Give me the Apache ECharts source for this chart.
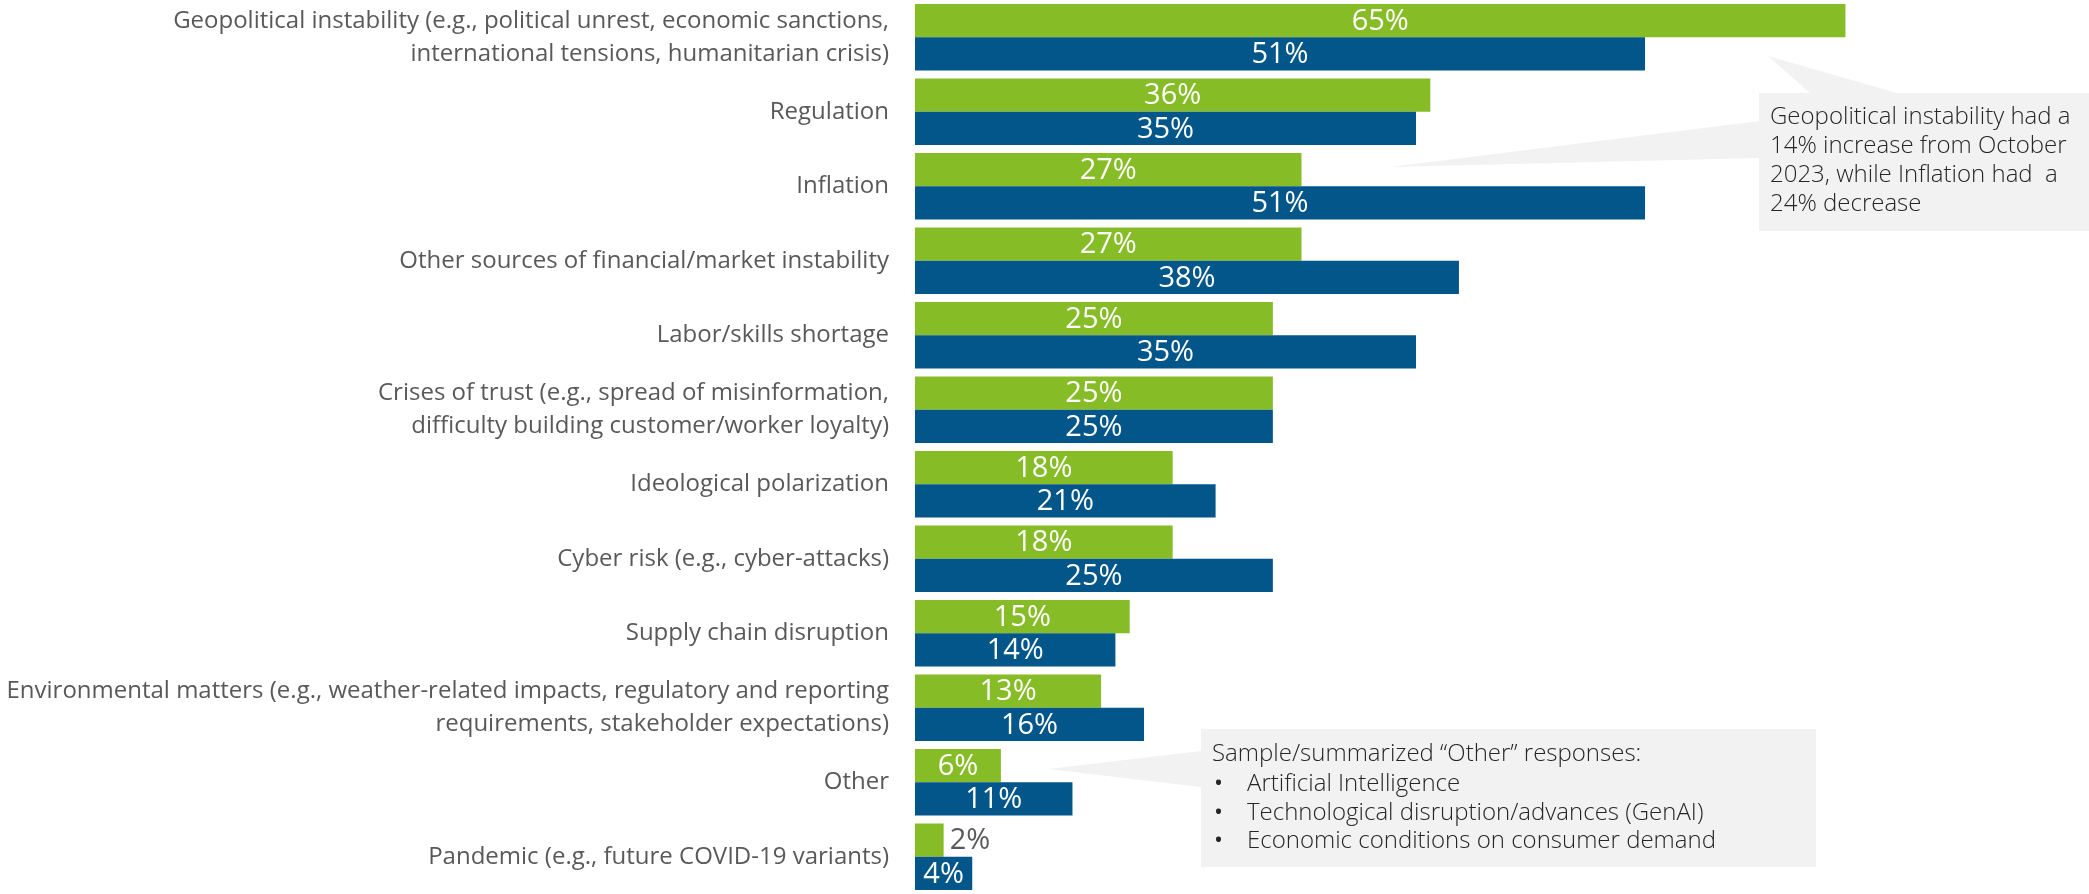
<!DOCTYPE html>
<html>
<head>
<meta charset="utf-8">
<script src="https://cdn.jsdelivr.net/npm/echarts@6/dist/echarts.min.js"></script>
<style>
  html, body { margin: 0; padding: 0; background: #fff; }
  #chart { width: 2089px; height: 894px; }
</style>
</head>
<body>
<div id="chart"></div>
<script>
// categories, top to bottom
const categories = [
  'Geopolitical instability (e.g., political unrest, economic sanctions,\ninternational tensions, humanitarian crisis)',
  'Regulation',
  'Inflation',
  'Other sources of financial/market instability',
  'Labor/skills shortage',
  'Crises of trust (e.g., spread of misinformation,\ndifficulty building customer/worker loyalty)',
  'Ideological polarization',
  'Cyber risk (e.g., cyber-attacks)',
  'Supply chain disruption',
  'Environmental matters (e.g., weather-related impacts, regulatory and reporting\nrequirements, stakeholder expectations)',
  'Other',
  'Pandemic (e.g., future COVID-19 variants)'
];
// green bars (latest survey)
const greenValues = [65, 36, 27, 27, 25, 25, 18, 18, 15, 13, 6, 2];
// blue bars (October 2023)
const blueValues = [51, 35, 51, 38, 35, 25, 21, 25, 14, 16, 11, 4];

const callout1 = 'Geopolitical instability had a\n14% increase from October\n2023, while Inflation had  a\n24% decrease';
const callout2Title = 'Sample/summarized \u201cOther\u201d responses:';
const callout2Items = [
  'Artificial Intelligence',
  'Technological disruption/advances (GenAI)',
  'Economic conditions on consumer demand'
];

const FONT = '"Open Sans", sans-serif';
const GREEN = '#86bc25';
const BLUE = '#02568a';
const NOTE_FONT = '300 24px "Open Sans", sans-serif';

const chart = echarts.init(document.getElementById('chart'));

// small bars get their label outside in grey
function toItems(vals) {
  return vals.map(v => v < 3
    ? { value: v, label: { position: 'right', color: '#595959', distance: 6 } }
    : v);
}

const barLabel = {
  show: true,
  position: 'inside',
  formatter: '{c}%',
  color: '#fff',
  fontFamily: FONT,
  fontSize: 29,
  offset: [0, 1]
};

const option = {
  animation: false,
  grid: { left: 915, right: 172, top: -1, height: 899, containLabel: false },
  xAxis: {
    type: 'value',
    min: 0,
    max: 70,
    show: false
  },
  yAxis: {
    type: 'category',
    inverse: true,
    data: categories,
    axisLine: { show: false },
    axisTick: { show: false },
    splitLine: { show: false },
    axisLabel: {
      margin: 26,
      color: '#595959',
      fontFamily: FONT,
      fontSize: 24,
      lineHeight: 33,
      align: 'right'
    }
  },
  series: [
    {
      name: 'Current',
      type: 'bar',
      barGap: '0%',
      barCategoryGap: '11%',
      itemStyle: { color: GREEN },
      label: barLabel,
      data: toItems(greenValues)
    },
    {
      name: 'October 2023',
      type: 'bar',
      barGap: '0%',
      barCategoryGap: '11%',
      itemStyle: { color: BLUE },
      label: barLabel,
      data: toItems(blueValues)
    }
  ],
  graphic: [
    // callout 1
    { type: 'polygon', z: 1, shape: { points: [[1768, 56], [1810, 93], [1897, 93]] }, style: { fill: '#f2f2f2' } },
    { type: 'polygon', z: 1, shape: { points: [[1390, 167], [1760, 121], [1760, 158]] }, style: { fill: '#f2f2f2' } },
    { type: 'rect', z: 1, shape: { x: 1759, y: 93, width: 330, height: 138 }, style: { fill: '#f2f2f2' } },
    {
      type: 'text', z: 2, x: 1770, y: 103,
      style: { text: callout1, fill: '#262626', font: NOTE_FONT, lineHeight: 29 }
    },
    // callout 2
    { type: 'polygon', z: 1, shape: { points: [[1048, 769], [1201, 751], [1201, 787]] }, style: { fill: '#f2f2f2' } },
    { type: 'rect', z: 1, shape: { x: 1201, y: 729, width: 615, height: 138 }, style: { fill: '#f2f2f2' } },
    {
      type: 'text', z: 2, x: 1212, y: 740,
      style: { text: callout2Title, fill: '#262626', font: NOTE_FONT, lineHeight: 28 }
    },
    {
      type: 'text', z: 2, x: 1214, y: 770,
      style: { text: callout2Items.map(() => '\u2022').join('\n'), fill: '#262626', font: '400 24px "Open Sans", sans-serif', lineHeight: 28.5 }
    },
    {
      type: 'text', z: 2, x: 1247, y: 770,
      style: { text: callout2Items.join('\n'), fill: '#262626', font: NOTE_FONT, lineHeight: 28.5 }
    }
  ]
};

chart.setOption(option);
</script>
</body>
</html>
